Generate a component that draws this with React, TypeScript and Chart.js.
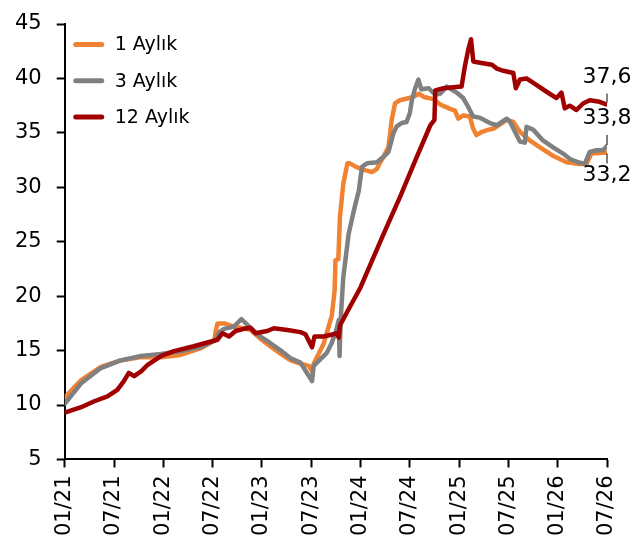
import React, { useEffect, useRef } from "react";
import { Chart, registerables } from "chart.js";

Chart.register(...registerables);

const tickLabels = ["01/21","07/21","01/22","07/22","01/23","07/23","01/24","07/24","01/25","07/25","01/26","07/26"];
const seriesNames = ["1 Aylık", "3 Aylık", "12 Aylık"];
const seriesColors = ["#F08232", "#808080", "#A00000"];

// [months since 01/21, value]
const oneMonth: [number, number][] = [
  [0,10.7],[2,12.3],[4.4,13.5],[6.8,14.1],[9.3,14.4],[11.7,14.4],[14.1,14.6],[16.5,15.2],[18.2,15.9],[18.4,16.9],[18.6,17.5],[19.4,17.5],[20.6,17.2],[21.4,17.1],[22.6,16.9],[23.8,16.1],[25.0,15.4],[26.3,14.7],[27.5,14.1],[28.7,13.8],[29.7,13.6],[30.1,13.1],[30.3,13.8],[31.5,15.6],[32.5,18.2],[32.85,20.5],[32.95,23.3],[33.3,23.4],[33.5,27.3],[33.9,30.3],[34.4,32.2],[34.7,32.2],[35.4,31.9],[36.0,31.7],[37.4,31.4],[38.0,31.7],[38.4,32.3],[38.8,32.8],[39.4,33.7],[39.8,36.2],[40.2,37.7],[40.8,38.0],[42.4,38.3],[43.1,38.6],[43.7,38.3],[44.9,38.1],[45.7,37.6],[46.9,37.2],[47.5,37.05],[47.9,36.3],[48.5,36.6],[49.3,36.5],[49.7,35.4],[50.1,34.8],[50.8,35.1],[51.4,35.25],[52.2,35.4],[53.8,36.2],[54.6,36.0],[55.4,35.1],[56.6,34.3],[57.8,33.7],[59.4,32.9],[61.1,32.3],[62.7,32.15],[63.5,32.15],[64.1,33.1],[66,33.2]
];

const threeMonth: [number, number][] = [
  [0,10.1],[2,12.0],[4.4,13.4],[6.8,14.1],[9.3,14.5],[11.7,14.7],[14.1,14.95],[16.5,15.3],[18.4,16.0],[18.8,16.7],[19.4,17.0],[20.6,17.2],[21.5,17.9],[22.6,17.1],[23.8,16.3],[25.0,15.7],[26.3,15.0],[27.5,14.3],[28.7,13.9],[29.1,13.4],[30.1,12.2],[30.3,13.6],[31.1,14.2],[31.9,14.8],[32.5,15.7],[33.1,17.0],[33.35,17.8],[33.45,14.5],[33.6,18.0],[33.9,21.7],[34.55,25.7],[35.2,27.9],[35.8,29.7],[36.0,30.9],[36.2,31.9],[36.8,32.2],[38.0,32.3],[38.8,32.8],[39.4,33.25],[40.0,34.95],[40.4,35.6],[41.0,35.9],[41.6,36.0],[42.0,36.8],[42.25,38.0],[42.65,39.1],[43.05,39.9],[43.4,39.0],[44.3,39.1],[45.1,38.5],[45.7,38.6],[46.5,39.25],[47.7,38.7],[48.5,38.2],[49.1,37.4],[49.7,36.5],[50.5,36.4],[51.75,35.9],[52.6,35.7],[53.8,36.3],[54.2,36.0],[54.8,35.1],[55.4,34.2],[56.0,34.1],[56.2,35.55],[57.0,35.3],[58.2,34.3],[59.4,33.7],[60.65,33.1],[61.5,32.6],[62.5,32.3],[63.3,32.15],[63.9,33.25],[64.7,33.4],[65.5,33.4],[66,33.8]
];

const twelveMonth: [number, number][] = [
  [0,9.3],[2,9.8],[3.6,10.35],[5.2,10.8],[6.4,11.4],[7.2,12.2],[7.8,12.95],[8.45,12.65],[9.3,13.1],[10.1,13.7],[11.7,14.5],[13.3,14.95],[15.7,15.4],[18.6,16.0],[19.2,16.6],[20.0,16.3],[20.8,16.8],[21.8,17.0],[22.6,17.1],[23.2,16.6],[24.65,16.8],[25.45,17.05],[27.1,16.9],[28.7,16.7],[29.3,16.5],[29.7,15.9],[30.1,15.3],[30.4,16.3],[31.5,16.3],[32.7,16.5],[33.1,16.6],[33.35,16.2],[33.5,17.3],[34.4,18.6],[36.0,20.8],[38.8,25.7],[40.8,29.1],[42.85,32.8],[44.5,35.7],[45.0,36.2],[45.1,38.9],[46.1,39.1],[47.3,39.2],[48.3,39.25],[48.7,41.1],[49.1,42.6],[49.45,43.6],[49.73,41.55],[50.9,41.4],[52.0,41.25],[52.6,40.9],[53.4,40.7],[54.6,40.5],[54.9,39.1],[55.4,39.9],[56.2,40.0],[57.4,39.4],[58.6,38.8],[59.85,38.2],[60.46,38.7],[60.86,37.25],[61.46,37.5],[62.28,37.1],[63.08,37.7],[63.9,38.0],[65.1,37.85],[66,37.6]
];

const allSeries = [oneMonth, threeMonth, twelveMonth];
// label offsets relative to last point: [textCenterDy, leaderFromDy, leaderToDy]
const endLabelOffsets = [[23, 1, 11], [-28, -11, -1], [-27, -11, -2]];

const FONT = "'DejaVu Sans', sans-serif";

const legendPlugin = {
  id: "customLegend",
  afterDraw(chart: any) {
    const ctx = chart.ctx;
    const { left, top } = chart.chartArea;
    ctx.save();
    seriesNames.forEach((name, i) => {
      const y = top + 20.5 + i * 36.3;
      ctx.strokeStyle = seriesColors[i];
      ctx.lineWidth = 5;
      ctx.lineCap = "round";
      ctx.beginPath();
      ctx.moveTo(left + 11, y);
      ctx.lineTo(left + 37, y);
      ctx.stroke();
      ctx.fillStyle = "#000";
      ctx.font = `19px ${FONT}`;
      ctx.textBaseline = "middle";
      ctx.textAlign = "left";
      ctx.fillText(name, left + 50, y + 1);
    });
    ctx.restore();
  },
};

const endLabelPlugin = {
  id: "endLabels",
  afterDatasetsDraw(chart: any) {
    const ctx = chart.ctx;
    ctx.save();
    chart.data.datasets.forEach((ds: any, i: number) => {
      const meta = chart.getDatasetMeta(i);
      const pt = meta.data[meta.data.length - 1];
      if (!pt) return;
      const last = ds.data[ds.data.length - 1];
      const text = last.y.toFixed(1).replace(".", ",");
      const [dy, l1, l2] = endLabelOffsets[i];
      ctx.strokeStyle = "#000";
      ctx.lineWidth = 1;
      ctx.beginPath();
      ctx.moveTo(pt.x, pt.y + l1);
      ctx.lineTo(pt.x, pt.y + l2);
      ctx.stroke();
      ctx.fillStyle = "#000";
      ctx.font = `22px ${FONT}`;
      ctx.textAlign = "center";
      ctx.textBaseline = "middle";
      ctx.fillText(text, pt.x, pt.y + dy);
    });
    ctx.restore();
  },
};

export default function App() {
  const ref = useRef<HTMLCanvasElement | null>(null);
  useEffect(() => {
    if (!ref.current) return;
    const chart = new Chart(ref.current, {
      type: "line",
      data: {
        datasets: allSeries.map((s, i) => ({
          label: seriesNames[i],
          data: s.map(([x, y]) => ({ x, y })),
          borderColor: seriesColors[i],
          backgroundColor: seriesColors[i],
          borderWidth: 4.5,
          pointRadius: 0,
          tension: 0,
          borderJoinStyle: "round" as const,
          borderCapStyle: "round" as const,
          order: 3 - i,
        })),
      },
      options: {
        animation: false,
        responsive: false,
        maintainAspectRatio: false,
        layout: { padding: { top: 24, right: 28, bottom: 5, left: 0 } },
        plugins: { legend: { display: false }, tooltip: { enabled: false } },
        scales: {
          x: {
            type: "linear",
            min: 0,
            max: 66,
            afterFit: (scale: any) => {
              scale.paddingLeft = 0;
              scale.paddingRight = 0;
            },
            grid: { drawOnChartArea: false, drawTicks: true, tickLength: 8, tickWidth: 2, tickColor: "#000" },
            border: { display: true, color: "#000", width: 2 },
            ticks: {
              stepSize: 6,
              autoSkip: false,
              maxRotation: 90,
              minRotation: 90,
              padding: 8,
              color: "#000",
              font: { family: FONT, size: 21 },
              callback: (v: any) => tickLabels[Math.round(Number(v) / 6)] ?? "",
            },
          },
          y: {
            min: 5,
            max: 45,
            afterFit: (scale: any) => {
              scale.paddingTop = 0;
              scale.paddingBottom = 0;
            },
            grid: { drawOnChartArea: false, drawTicks: true, tickLength: 8, tickWidth: 2, tickColor: "#000" },
            border: { display: true, color: "#000", width: 2 },
            ticks: {
              stepSize: 5,
              padding: 15,
              color: "#000",
              font: { family: FONT, size: 21 },
            },
          },
        },
      },
      plugins: [legendPlugin, endLabelPlugin],
    });
    return () => chart.destroy();
  }, []);
  return (
    <div style={{ position: "absolute", left: 0, top: 0, width: 635, height: 549, background: "#fff" }}>
      <canvas ref={ref} width={635} height={549} style={{ width: 635, height: 549 }} />
    </div>
  );
}
